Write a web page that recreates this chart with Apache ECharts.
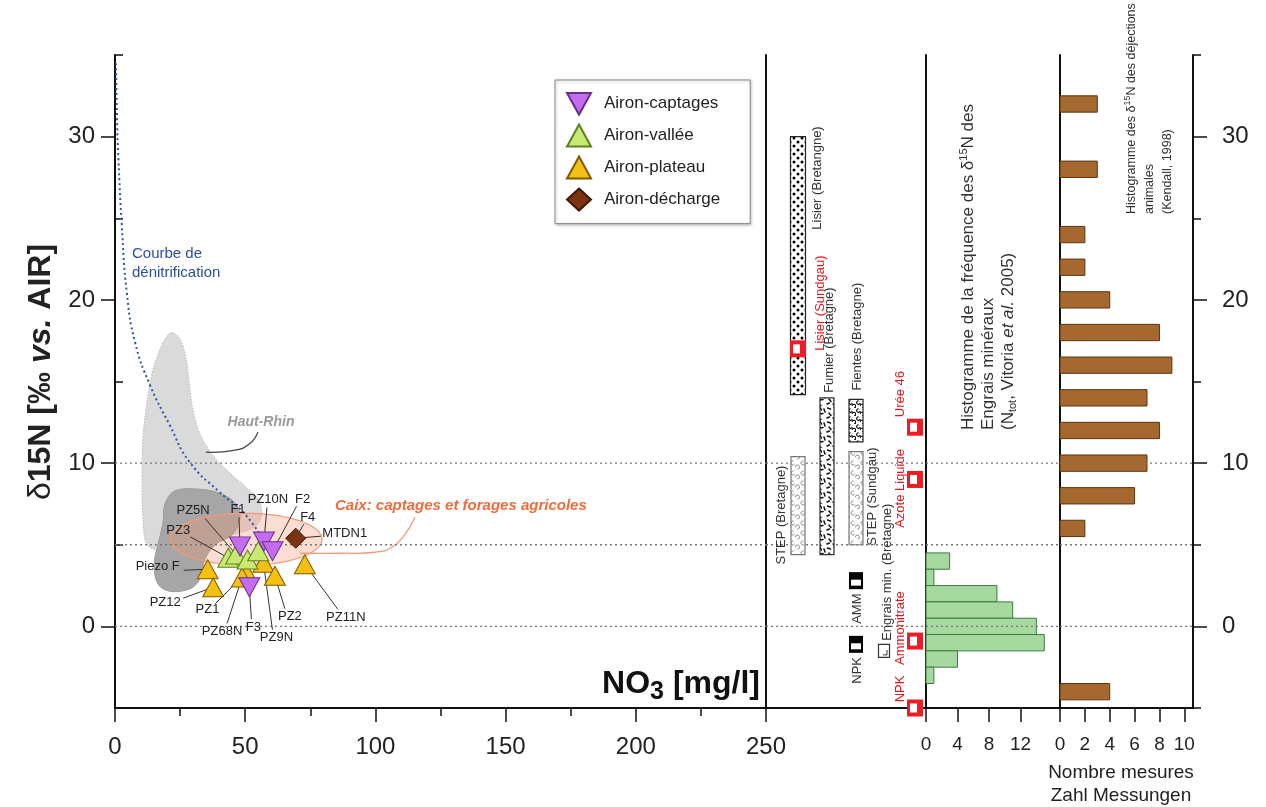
<!DOCTYPE html>
<html><head><meta charset="utf-8">
<script src="https://cdn.jsdelivr.net/npm/echarts@6/dist/echarts.min.js"></script>
<style>html,body{margin:0;padding:0;background:#fff}#c{width:1266px;height:807px}</style>
</head><body><div id="c"></div>
<script>
// ================= DATA =================
const captagesNames = ['F1', 'PZ10N', 'F2', 'F3'];
const captagesX = [48.0, 57.2, 60.5, 51.6];
const captagesY = [4.9, 5.2, 4.6, 2.4];

const valleeNames = ['PZ3', 'PZ5N', '', ''];
const valleeX = [43.5, 46.5, 50.9, 55.0];
const valleeY = [4.2, 4.4, 4.1, 4.6];

const plateauNames = ['Piezo F', 'PZ12', 'PZ1', 'PZ68N', 'PZ9N', 'PZ2', 'PZ11N'];
const plateauX = [35.6, 37.7, 50.5, 48.8, 57.0, 61.4, 72.9];
const plateauY = [3.5, 2.4, 3.3, 3.0, 3.9, 3.1, 3.8];

const dechargeNames = ['MTDN1'];
const dechargeX = [69.4];
const dechargeY = [5.4];
const extraLabelNames = ['F4'];          // extra label pointing at the décharge point

// denitrification curve
const denitX = [0.4, 0.8, 1.3, 2.6, 4.5, 7.7, 13.4, 21.1, 28.5, 40.3, 49.2, 57.0];
const denitY = [34.5, 31.0, 28.7, 24.6, 20.5, 17.4, 14.8, 12.3, 10.1, 8.2, 7.0, 5.3];

// Haut-Rhin envelope (data units)
const hautRhinX = [21.9, 24.95, 27.3, 28.8, 30.3, 32.6, 37.2, 43.4, 49.9, 54.9, 56.4, 53.7, 44.1, 28.8, 17.3, 12.3, 10.7, 10.4, 10.7, 11.9, 14.2, 17.3, 19.6];
const hautRhinY = [18.0, 17.6, 16.4, 14.5, 13.0, 11.8, 10.55, 9.5, 8.6, 7.8, 6.9, 6.1, 5.6, 5.3, 4.7, 5.0, 6.6, 9.0, 11.5, 13.3, 15.5, 17.0, 17.7];
// darker grey zone
const zoneX = [23.0, 32.6, 41.1, 46.4, 48.0, 44.9, 38.4, 34.5, 32.6, 28.8, 21.1, 16.5, 15.0, 16.5, 18.4, 19.2];
const zoneY = [8.3, 8.4, 8.1, 7.5, 6.6, 5.6, 5.0, 4.1, 2.9, 2.3, 2.15, 2.6, 3.8, 5.0, 6.3, 7.5];
// Caix ellipse extent
const caixXRange = [21.1, 79.5];
const caixYRange = [3.74, 6.93];
const caixCalloutX = [71.0, 86.4, 99.8, 106.3, 111.3, 115.2];
const caixCalloutY = [4.48, 4.48, 4.54, 4.85, 5.64, 6.69];
const hrCalloutX = [54.9, 51.8, 46.1, 34.9];
const hrCalloutY = [11.9, 11.2, 10.8, 10.67];

// middle panel: source ranges
const rangeNames = ['Lisier (Bretangne)', 'STEP (Bretagne)', 'Fumier (Bretagne)', 'Fientes (Bretagne)', 'STEP (Sundgau)'];
const rangeLow = [14.2, 4.4, 4.4, 11.3, 5.0];
const rangeHigh = [30.0, 10.4, 14.0, 13.9, 10.7];
// middle panel: single values
const markerNames = ['Lisier (Sundgau)', 'Urée 46', 'Azote Liquide', 'Ammonitrate', 'NPK', 'AMM', 'NPK', 'Engrais min. (Bretagne)'];
const markerY = [17.0, 12.2, 9.0, -0.9, -5.0, 2.8, -1.1, -1.5];

// histogram: engrais minéraux
const mineralBins = [4, 3, 2, 1, 0, -1, -2, -3];
const mineralCounts = [3, 1, 9, 11, 14, 15, 4, 1];
// histogram: déjections animales
const animalBins = [32, 28, 24, 22, 20, 18, 16, 14, 12, 10, 8, 6, -4];
const animalCounts = [3, 3, 2, 2, 4, 8, 9, 7, 8, 7, 6, 2, 4];

// ticks
const yMajorTicks = [0, 10, 20, 30];
const yMinorTicks = [-5, 5, 15, 25, 35];
const refLines = [10, 5, 0];
const mineralTicks = [0, 4, 8, 12];
const animalTicks = [0, 2, 4, 6, 8, 10];

// ================= LAYOUT / STYLE =================
const FONT = '"Liberation Sans", Arial, sans-serif';
const labelLayout = { // [text dx, text dy, line-start dx, line-start dy] in px
  'F1': [-2, -37, 1, 8], 'PZ10N': [4, -42, -1, 8], 'F2': [30, -52, -6, 7], 'F4': [12, -21, -4, 7],
  'MTDN1': [49, -5, -24, 3], 'PZ5N': [-43, -44, 12, 8], 'PZ3': [-50, -27, 12, 6],
  'Piezo F': [-50, -3, 26, 4], 'PZ12': [-48, 15, 18, -4], 'PZ1': [-39, 37, 8, -6],
  'PZ68N': [-20, 54, 5, -8], 'F3': [4, 40, -2, -8], 'PZ9N': [13, 75, -4, -8],
  'PZ2': [15, 41, -5, -8], 'PZ11N': [41, 53, -8, -8]
};
const rangeLayout = [
  {col: 32, w: 15, pat: 'dots', stroke: '#222', ref: 'hi', lx: 19, ly: 93, align: 'left'},
  {col: 32, w: 14, pat: 'curlLight', stroke: '#777', ref: 'lo', lx: -17, ly: 10, align: 'left'},
  {col: 61, w: 14, pat: 'dash', stroke: '#333', ref: 'hi', lx: 2, ly: -5, align: 'left'},
  {col: 90, w: 14, pat: 'curlDark', stroke: '#222', ref: 'hi', lx: 1, ly: -9, align: 'left'},
  {col: 90, w: 14, pat: 'curlLight', stroke: '#777', ref: 'lo', lx: 16, ly: 1, align: 'left'}
];
const markerLayout = [
  {col: 32, kind: 'red', lx: 22, ly: 2, align: 'left'},
  {col: 149, kind: 'red', lx: -15, ly: -10, align: 'left'},
  {col: 149, kind: 'red', lx: -15, ly: 9, align: 'center'},
  {col: 149, kind: 'red', lx: -15, ly: -13, align: 'center'},
  {col: 149, kind: 'red', lx: -15, ly: -19, align: 'center'},
  {col: 90, kind: 'black', lx: 1, ly: 28, align: 'center'},
  {col: 90, kind: 'black', lx: 1, ly: 26, align: 'center'},
  {col: 118, kind: 'hollow', lx: 3, ly: -10, align: 'left'}
];

function pattern(kind) {
  const c = document.createElement('canvas');
  const g = c.getContext('2d');
  const s = kind === 'curlLight' ? 10 : (kind === 'dash' ? 14 : 8);
  c.width = c.height = s;
  g.fillStyle = '#fff'; g.fillRect(0, 0, s, s);
  if (kind === 'dots') {
    g.fillStyle = '#000';
    g.beginPath(); g.arc(2, 2, 1.5, 0, 6.3); g.fill();
    g.beginPath(); g.arc(6, 6, 1.5, 0, 6.3); g.fill();
  } else if (kind === 'dash') {
    g.strokeStyle = '#111'; g.lineWidth = 1.5; g.lineCap = 'round'; g.beginPath();
    g.moveTo(1.5, 2); g.lineTo(4.5, 3);
    g.moveTo(8, 1); g.lineTo(9.5, 4);
    g.moveTo(12, 3); g.lineTo(13, 6);
    g.moveTo(3, 7); g.lineTo(5, 9.5);
    g.moveTo(8, 8); g.lineTo(11, 7.5);
    g.moveTo(1, 12); g.lineTo(3.5, 11);
    g.moveTo(7, 12); g.lineTo(9, 13.5);
    g.stroke();
  } else if (kind === 'curlDark') {
    g.strokeStyle = '#000'; g.lineWidth = 1.1;
    g.beginPath(); g.arc(2.5, 2.5, 1.8, 0.3, 4.8); g.stroke();
    g.beginPath(); g.arc(6, 6, 1.8, 3.2, 7.8); g.stroke();
  } else {
    g.strokeStyle = '#8a8a8a'; g.lineWidth = 1;
    g.beginPath(); g.arc(3, 3, 2, 0.5, 5); g.stroke();
    g.beginPath(); g.arc(7.5, 7, 2, 3, 8); g.stroke();
  }
  return {image: c, repeat: 'repeat'};
}
const patterns = {dots: pattern('dots'), dash: pattern('dash'), curlDark: pattern('curlDark'), curlLight: pattern('curlLight')};

// ================= CHART =================
const chart = echarts.init(document.getElementById('c'));
const GRID_TOP = 55, GRID_BOTTOM = 99;

function txt(x, y, text, o) {
  return Object.assign({type: 'text', x: x, y: y, z: 50, style: Object.assign({
    text: text, fontFamily: FONT, fontSize: 14, fill: '#222',
    align: 'left', textAlign: 'left', verticalAlign: 'middle', textVerticalAlign: 'middle'
  }, o.style || {})}, o.rotation ? {rotation: o.rotation} : {});
}

function dottedSeries(xi, yi, z) {
  return {
    type: 'custom', xAxisIndex: xi, yAxisIndex: yi, z: z, silent: true, clip: false,
    data: refLines.map(v => [0, v]),
    renderItem: (p, api) => {
      const cs = p.coordSys;
      const y = api.coord([0, api.value(1)])[1];
      return {type: 'line', shape: {x1: cs.x, y1: y, x2: cs.x + cs.width, y2: y},
        style: {stroke: '#777', lineWidth: 1.3, lineDash: [2, 3]}};
    }
  };
}

function histSeries(xi, yi, bins, counts, fill, stroke) {
  return {
    type: 'custom', xAxisIndex: xi, yAxisIndex: yi, z: 3, silent: true,
    data: bins.map((b, i) => [counts[i], b]),
    renderItem: (p, api) => {
      const v = api.value(0), y = api.value(1);
      const a = api.coord([0, y + 0.5]), b = api.coord([v, y - 0.5]);
      return {type: 'rect', shape: {x: a[0], y: a[1], width: b[0] - a[0], height: b[1] - a[1]},
        style: {fill: fill, stroke: stroke, lineWidth: 1}};
    }
  };
}

const allLabels = [];
captagesNames.forEach((n, i) => n && allLabels.push({name: n, value: [captagesX[i], captagesY[i]]}));
valleeNames.forEach((n, i) => n && allLabels.push({name: n, value: [valleeX[i], valleeY[i]]}));
plateauNames.forEach((n, i) => n && allLabels.push({name: n, value: [plateauX[i], plateauY[i]]}));
dechargeNames.forEach((n, i) => allLabels.push({name: n, value: [dechargeX[i], dechargeY[i]]}));
extraLabelNames.forEach(n => allLabels.push({name: n, value: [dechargeX[0], dechargeY[0]]}));

const downTri = 'path://M0,0L20,0L10,18Z';

const yBase = {type: 'value', min: -5, max: 35, splitLine: {show: false}};
const axisLineBlack = {show: true, onZero: false, lineStyle: {color: '#111', width: 2}};

const option = {
  backgroundColor: '#fff',
  animation: false,
  textStyle: {fontFamily: FONT},
  grid: [
    {left: 115, top: GRID_TOP, width: 651, bottom: GRID_BOTTOM},
    {left: 766, top: GRID_TOP, width: 160, bottom: GRID_BOTTOM},
    {left: 926, top: GRID_TOP, width: 134, bottom: GRID_BOTTOM},
    {left: 1060, top: GRID_TOP, width: 133, bottom: GRID_BOTTOM}
  ],
  xAxis: [
    {gridIndex: 0, type: 'value', min: 0, max: 250, interval: 50, axisLine: axisLineBlack,
      axisTick: {show: true, length: 14, lineStyle: {color: '#111', width: 1.5}},
      minorTick: {show: true, splitNumber: 2, length: 8, lineStyle: {color: '#111', width: 1.5}},
      axisLabel: {fontSize: 24, color: '#222', margin: 27, fontFamily: FONT}, splitLine: {show: false}},
    {gridIndex: 1, type: 'value', min: 0, max: 160, axisLine: axisLineBlack, axisTick: {show: false},
      axisLabel: {show: false}, splitLine: {show: false}},
    {gridIndex: 2, type: 'value', min: 0, max: 17, axisLine: axisLineBlack,
      axisTick: {show: true, length: 14, customValues: mineralTicks, lineStyle: {color: '#111', width: 1.5}},
      axisLabel: {fontSize: 19, color: '#222', margin: 27, customValues: mineralTicks, fontFamily: FONT},
      splitLine: {show: false}},
    {gridIndex: 3, type: 'value', min: 0, max: 10.7, axisLine: axisLineBlack,
      axisTick: {show: true, length: 14, customValues: animalTicks, lineStyle: {color: '#111', width: 1.5}},
      axisLabel: {fontSize: 19, color: '#222', margin: 27, customValues: animalTicks, fontFamily: FONT},
      splitLine: {show: false}}
  ],
  yAxis: [
    Object.assign({}, yBase, {gridIndex: 0, position: 'left', axisLine: axisLineBlack,
      axisTick: {show: true, length: 14, customValues: yMajorTicks, lineStyle: {color: '#111', width: 1.5}},
      axisLabel: {fontSize: 24, color: '#222', margin: 20, customValues: yMajorTicks, fontFamily: FONT}}),
    Object.assign({}, yBase, {gridIndex: 0, position: 'left', axisLine: {show: false, onZero: false},
      axisTick: {show: true, inside: true, length: 8, customValues: yMinorTicks, lineStyle: {color: '#111', width: 1.5}},
      axisLabel: {show: false}}),
    Object.assign({}, yBase, {gridIndex: 1, axisLine: axisLineBlack, axisTick: {show: false}, axisLabel: {show: false}}),
    Object.assign({}, yBase, {gridIndex: 2, axisLine: axisLineBlack, axisTick: {show: false}, axisLabel: {show: false}}),
    Object.assign({}, yBase, {gridIndex: 3, position: 'left', axisLine: axisLineBlack, axisTick: {show: false}, axisLabel: {show: false}}),
    Object.assign({}, yBase, {gridIndex: 3, position: 'right', axisLine: axisLineBlack,
      axisTick: {show: true, length: 14, customValues: yMajorTicks, lineStyle: {color: '#111', width: 1.5}},
      axisLabel: {fontSize: 24, color: '#222', margin: 29, customValues: yMajorTicks, fontFamily: FONT}}),
    Object.assign({}, yBase, {gridIndex: 3, position: 'right', axisLine: {show: false, onZero: false},
      axisTick: {show: true, length: 8, customValues: yMinorTicks, lineStyle: {color: '#111', width: 1.5}},
      axisLabel: {show: false}})
  ],
  legend: {
    orient: 'vertical', left: 555, top: 80, padding: [12, 30, 12, 11], itemGap: 8,
    itemWidth: 24, itemHeight: 22, backgroundColor: '#fff', borderColor: '#8a8a8a', borderWidth: 1,
    shadowColor: 'rgba(0,0,0,0.25)', shadowBlur: 3, shadowOffsetX: 1, shadowOffsetY: 1,
    textStyle: {fontSize: 17, color: '#222', fontFamily: FONT, padding: [0, 0, 0, 8]},
    data: ['Airon-captages', 'Airon-vallée', 'Airon-plateau', 'Airon-décharge']
  },
  graphic: [
    txt(41, 372, '{d|δ}{b|15N [‰ }{i|vs.}{b| AIR]}', {rotation: Math.PI / 2, style: {align: 'center', textAlign: 'center',
      rich: {d: {fontSize: 32, fontFamily: FONT, fill: '#222'}, b: {fontSize: 32, fontWeight: 'bold', fontFamily: FONT, fill: '#222'},
        i: {fontSize: 32, fontWeight: 'bold', fontStyle: 'italic', fontFamily: FONT, fill: '#222'}}}}),
    txt(760, 684, '{b|NO}{s|3}{b| [mg/l]}', {style: {align: 'right', textAlign: 'right',
      rich: {b: {fontSize: 32, fontWeight: 'bold', fontFamily: FONT, fill: '#111', lineHeight: 42, verticalAlign: 'middle'},
        s: {fontSize: 25, fontWeight: 'bold', fontFamily: FONT, fill: '#111', lineHeight: 42, verticalAlign: 'bottom'}}}}),
    txt(132, 254, 'Courbe de', {style: {fontSize: 15, fill: '#2d4d9e'}}),
    txt(132, 273, 'dénitrification', {style: {fontSize: 15, fill: '#2d4d9e'}}),
    txt(261, 422, 'Haut-Rhin', {style: {fontSize: 14, fill: '#9a9a9a', fontWeight: 'bold', fontStyle: 'italic', align: 'center', textAlign: 'center'}}),
    txt(335, 506, 'Caix: captages et forages agricoles', {style: {fontSize: 15, fill: '#f26b3a', fontWeight: 'bold', fontStyle: 'italic'}}),
    txt(968, 430, 'Histogramme de la fréquence des δ{sup|15}N des', {rotation: Math.PI / 2, style: {fontSize: 17, fill: '#333',
      rich: {sup: {fontSize: 11, fontFamily: FONT, fill: '#333', verticalAlign: 'top', lineHeight: 20}}}}),
    txt(988, 430, 'Engrais minéraux', {rotation: Math.PI / 2, style: {fontSize: 17, fill: '#333'}}),
    txt(1008, 430, '(N{sub|tot}, Vitoria {i|et al.} 2005)', {rotation: Math.PI / 2, style: {fontSize: 17, fill: '#333',
      rich: {sub: {fontSize: 11, fontFamily: FONT, fill: '#333', verticalAlign: 'bottom', lineHeight: 20},
        i: {fontSize: 17, fontStyle: 'italic', fontFamily: FONT, fill: '#333'}}}}),
    txt(1132, 214, 'Histogramme des δ{sup|15}N des déjections', {rotation: Math.PI / 2, style: {fontSize: 12.5, fill: '#333',
      rich: {sup: {fontSize: 9, fontFamily: FONT, fill: '#333', verticalAlign: 'top', lineHeight: 17}}}}),
    txt(1150, 214, 'animales', {rotation: Math.PI / 2, style: {fontSize: 12.5, fill: '#333'}}),
    txt(1168, 214, '(Kendall, 1998)', {rotation: Math.PI / 2, style: {fontSize: 12.5, fill: '#333'}}),
    txt(1121, 773, 'Nombre mesures', {style: {fontSize: 19, align: 'center', textAlign: 'center'}}),
    txt(1121, 796, 'Zahl Messungen', {style: {fontSize: 19, align: 'center', textAlign: 'center'}})
  ],
  series: [
    // envelopes
    {
      type: 'custom', xAxisIndex: 0, yAxisIndex: 0, z: 1, silent: true, data: [[0, 0]],
      renderItem: (p, api) => {
        const hr = hautRhinX.map((x, i) => api.coord([x, hautRhinY[i]]));
        const dz = zoneX.map((x, i) => api.coord([x, zoneY[i]]));
        const c0 = api.coord([(caixXRange[0] + caixXRange[1]) / 2, (caixYRange[0] + caixYRange[1]) / 2]);
        const c1 = api.coord([caixXRange[1], caixYRange[1]]);
        const rx = c1[0] - c0[0], ry = c0[1] - c1[1];
        const ell = [];
        for (let k = 0; k < 72; k++) { const t = k / 72 * Math.PI * 2; ell.push([c0[0] + rx * Math.cos(t), c0[1] + ry * Math.sin(t)]); }
        const co = caixCalloutX.map((x, i) => api.coord([x, caixCalloutY[i]]));
        const hc = hrCalloutX.map((x, i) => api.coord([x, hrCalloutY[i]]));
        return {type: 'group', children: [
          {type: 'polygon', shape: {points: hr, smooth: 0.35}, style: {fill: 'rgba(205,205,205,0.75)', stroke: '#a8a8a8', lineWidth: 1, lineDash: [1, 2]}},
          {type: 'polygon', shape: {points: dz, smooth: 0.35}, style: {fill: '#a6a6a6', stroke: '#9a9a9a', lineWidth: 1}},
          {type: 'polygon', shape: {points: ell}, style: {fill: 'rgba(244,150,115,0.32)', stroke: '#f29a7c', lineWidth: 1.2}},
          {type: 'polyline', shape: {points: co, smooth: 0.5}, style: {stroke: '#f29a7c', fill: null, lineWidth: 1.3}},
          {type: 'polyline', shape: {points: hc, smooth: 0.5}, style: {stroke: '#444', fill: null, lineWidth: 1.3}}
        ]};
      }
    },
    dottedSeries(0, 0, 2),
    dottedSeries(1, 2, 2),
    dottedSeries(2, 3, 5),
    dottedSeries(3, 4, 5),
    {
      type: 'line', xAxisIndex: 0, yAxisIndex: 0, z: 2, silent: true, smooth: true, showSymbol: false,
      data: denitX.map((x, i) => [x, denitY[i]]),
      lineStyle: {color: '#3552a5', width: 2, type: [2, 3]}
    },
    // point labels + leader lines
    {
      type: 'custom', xAxisIndex: 0, yAxisIndex: 0, z: 3, silent: true, clip: false, data: allLabels,
      renderItem: (p, api) => {
        const item = allLabels[p.dataIndex];
        const pt = api.coord([api.value(0), api.value(1)]);
        const L = labelLayout[item.name];
        const tx = pt[0] + L[0], ty = pt[1] + L[1];
        return {type: 'group', children: [
          {type: 'line', shape: {x1: tx + L[2], y1: ty + L[3], x2: pt[0], y2: pt[1]}, style: {stroke: '#333', lineWidth: 1}},
          {type: 'text', x: tx, y: ty, style: {text: item.name, fontFamily: FONT, fontSize: 13, fill: '#222',
            align: 'center', textAlign: 'center', verticalAlign: 'middle', textVerticalAlign: 'middle'}}
        ]};
      }
    },
    {
      name: 'Airon-captages', type: 'scatter', xAxisIndex: 0, yAxisIndex: 0, z: 6,
      symbol: downTri, symbolSize: [21, 19],
      itemStyle: {color: '#c46cf0', borderColor: '#6a2f8a', borderWidth: 1, opacity: 1},
      data: captagesX.map((x, i) => ({name: captagesNames[i], value: [x, captagesY[i]]}))
    },
    {
      name: 'Airon-vallée', type: 'scatter', xAxisIndex: 0, yAxisIndex: 0, z: 5,
      symbol: 'triangle', symbolSize: [21, 19],
      itemStyle: {color: '#c7ea73', borderColor: '#5f7f22', borderWidth: 1, opacity: 1},
      data: valleeX.map((x, i) => ({name: valleeNames[i], value: [x, valleeY[i]]}))
    },
    {
      name: 'Airon-plateau', type: 'scatter', xAxisIndex: 0, yAxisIndex: 0, z: 4,
      symbol: 'triangle', symbolSize: [21, 19],
      itemStyle: {color: '#f5c014', borderColor: '#7d5a00', borderWidth: 1, opacity: 1},
      data: plateauX.map((x, i) => ({name: plateauNames[i], value: [x, plateauY[i]]}))
    },
    {
      name: 'Airon-décharge', type: 'scatter', xAxisIndex: 0, yAxisIndex: 0, z: 6,
      symbol: 'diamond', symbolSize: [20, 20],
      itemStyle: {color: '#7a3411', borderColor: '#3f1800', borderWidth: 1, opacity: 1},
      data: dechargeX.map((x, i) => ({name: dechargeNames[i], value: [x, dechargeY[i]]}))
    },
    // middle panel ranges
    {
      type: 'custom', xAxisIndex: 1, yAxisIndex: 2, z: 3, silent: true, clip: false,
      data: rangeNames.map((n, i) => ({name: n, value: [i, rangeLow[i], rangeHigh[i]]})),
      renderItem: (p, api) => {
        const i = p.dataIndex, L = rangeLayout[i];
        const top = api.coord([L.col, api.value(2)]);
        const bot = api.coord([L.col, api.value(1)]);
        const refY = L.ref === 'hi' ? top[1] : bot[1];
        return {type: 'group', children: [
          {type: 'rect', shape: {x: top[0] - L.w / 2, y: top[1], width: L.w, height: bot[1] - top[1]},
            style: {fill: patterns[L.pat], stroke: L.stroke, lineWidth: 1.2}},
          {type: 'text', x: top[0] + L.lx, y: refY + L.ly, rotation: Math.PI / 2,
            style: {text: rangeNames[i], fontFamily: FONT, fontSize: 13, fill: '#333',
              align: L.align, textAlign: L.align, verticalAlign: 'middle', textVerticalAlign: 'middle'}}
        ]};
      }
    },
    // middle panel markers
    {
      type: 'custom', xAxisIndex: 1, yAxisIndex: 2, z: 4, silent: true, clip: false,
      data: markerNames.map((n, i) => ({name: n, value: [i, markerY[i]]})),
      renderItem: (p, api) => {
        const i = p.dataIndex, L = markerLayout[i];
        const c = api.coord([L.col, api.value(1)]);
        const kids = [];
        let color = '#333';
        if (L.kind === 'red') {
          color = '#e8141c';
          kids.push({type: 'rect', shape: {x: c[0] - 8, y: c[1] - 8.5, width: 16, height: 17}, style: {fill: '#ee1c24'}});
          kids.push({type: 'rect', shape: {x: c[0] - 5, y: c[1] - 4.5, width: 7, height: 9}, style: {fill: '#fff'}});
        } else if (L.kind === 'black') {
          kids.push({type: 'rect', shape: {x: c[0] - 7, y: c[1] - 8.5, width: 14, height: 17}, style: {fill: '#000'}});
          kids.push({type: 'rect', shape: {x: c[0] - 5, y: c[1] - 1, width: 10, height: 6}, style: {fill: '#fff'}});
        } else {
          kids.push({type: 'rect', shape: {x: c[0] - 5.5, y: c[1] - 6.5, width: 11, height: 13}, style: {fill: '#fff', stroke: '#333', lineWidth: 1.2}});
          kids.push({type: 'polyline', shape: {points: [[c[0] - 1, c[1] + 4], [c[0] + 3, c[1] + 4], [c[0] + 3, c[1] - 1]]}, style: {stroke: '#333', fill: null, lineWidth: 1}});
        }
        kids.push({type: 'text', x: c[0] + L.lx, y: c[1] + L.ly, rotation: Math.PI / 2,
          style: {text: markerNames[i], fontFamily: FONT, fontSize: 13, fill: color,
            align: L.align, textAlign: L.align, verticalAlign: 'middle', textVerticalAlign: 'middle'}});
        return {type: 'group', children: kids};
      }
    },
    histSeries(2, 3, mineralBins, mineralCounts, '#a6d9a0', '#3d7a3d'),
    histSeries(3, 4, animalBins, animalCounts, '#a5682e', '#5a3510')
  ]
};
chart.setOption(option);
</script>
</body></html>
